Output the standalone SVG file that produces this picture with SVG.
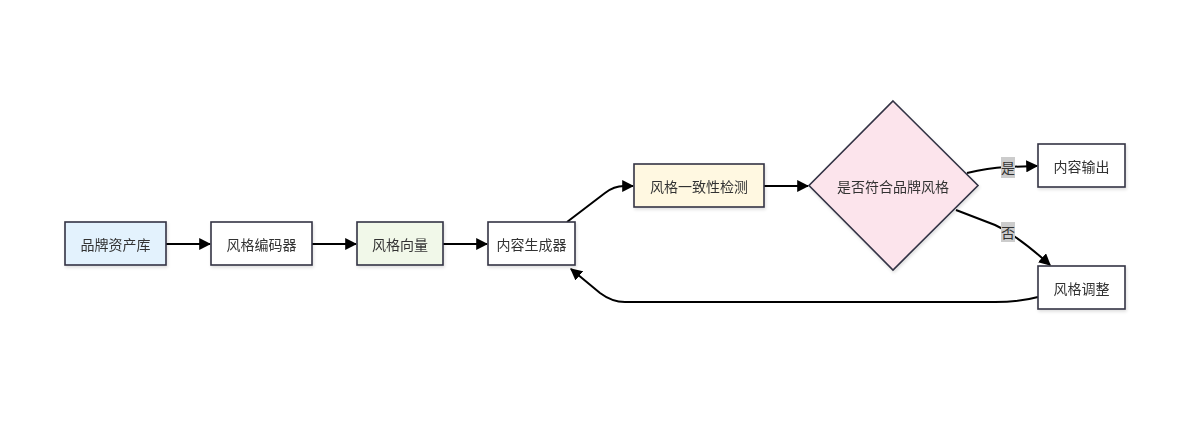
<svg xmlns="http://www.w3.org/2000/svg" width="1204" height="422" viewBox="0 0 1204 422">
<defs>
<style>
.n{stroke:#333344;stroke-width:1.6;}
.t{font-family:"Noto Sans CJK SC","Noto Sans",sans-serif;font-size:14px;fill:#333;text-anchor:middle;dominant-baseline:central;}
.e{fill:none;stroke:#000;stroke-width:2;marker-end:url(#ah);}
.lb{fill:#cccccc;}
</style>
<marker id="ah" viewBox="0 0 10 10" refX="9" refY="5" markerWidth="6" markerHeight="6" orient="auto" markerUnits="strokeWidth">
<path d="M0,0 L10,5 L0,10 Z" fill="#000"/>
</marker>
<filter id="sh" x="-10%" y="-10%" width="130%" height="140%">
<feDropShadow dx="1" dy="2" stdDeviation="1.5" flood-color="#000" flood-opacity="0.12"/>
</filter>
</defs>
<rect width="1204" height="422" fill="#fff"/>
<g id="connectors">
<path class="e" d="M166,244 L210,244"/>
<path class="e" d="M312,244 L356,244"/>
<path class="e" d="M443,244 L487,244"/>
<path class="e" d="M567,222 L605,193 Q614,186 624,186 L633,186"/>
<path class="e" d="M764,186 L808,186"/>
<path class="e" d="M967,173 Q988,168 1006,167 L1037,166"/>
<path class="e" d="M956,210 L995,225 Q1018,236 1050,265"/>
<path class="e" d="M1038,297 Q1020,302 995,302 L625,302 Q612,302 600,293 L571,269"/>
</g>
<g id="edge-labels">
<rect class="lb" x="1001" y="157" width="14" height="21"/>
<text class="t" x="1008" y="167">是</text>
<rect class="lb" x="1001" y="222" width="14" height="20"/>
<text class="t" x="1008" y="232">否</text>
</g>
<g id="n1" filter="url(#sh)"><rect class="n" x="65" y="222" width="101" height="43" fill="#e3f2fd"/><text class="t" x="115.5" y="243.5">品牌资产库</text></g>
<g id="n2" filter="url(#sh)"><rect class="n" x="211" y="222" width="101" height="43" fill="#fff"/><text class="t" x="261.5" y="243.5">风格编码器</text></g>
<g id="n3" filter="url(#sh)"><rect class="n" x="357" y="222" width="86" height="43" fill="#f1f8e9"/><text class="t" x="400" y="243.5">风格向量</text></g>
<g id="n4" filter="url(#sh)"><rect class="n" x="488" y="222" width="87" height="43" fill="#fff"/><text class="t" x="531.5" y="243.5">内容生成器</text></g>
<g id="n5" filter="url(#sh)"><rect class="n" x="634" y="164" width="130" height="43" fill="#fff8e1"/><text class="t" x="699" y="185.5">风格一致性检测</text></g>
<g id="n6" filter="url(#sh)"><polygon class="n" points="893,101 978,185.5 893,270 809,185.5" fill="#fce4ec"/><text class="t" x="893" y="185.5">是否符合品牌风格</text></g>
<g id="n7" filter="url(#sh)"><rect class="n" x="1038" y="144" width="87" height="43" fill="#fff"/><text class="t" x="1081.5" y="165.5">内容输出</text></g>
<g id="n8" filter="url(#sh)"><rect class="n" x="1038" y="266" width="87" height="43" fill="#fff"/><text class="t" x="1081.5" y="287.5">风格调整</text></g>
</svg>
